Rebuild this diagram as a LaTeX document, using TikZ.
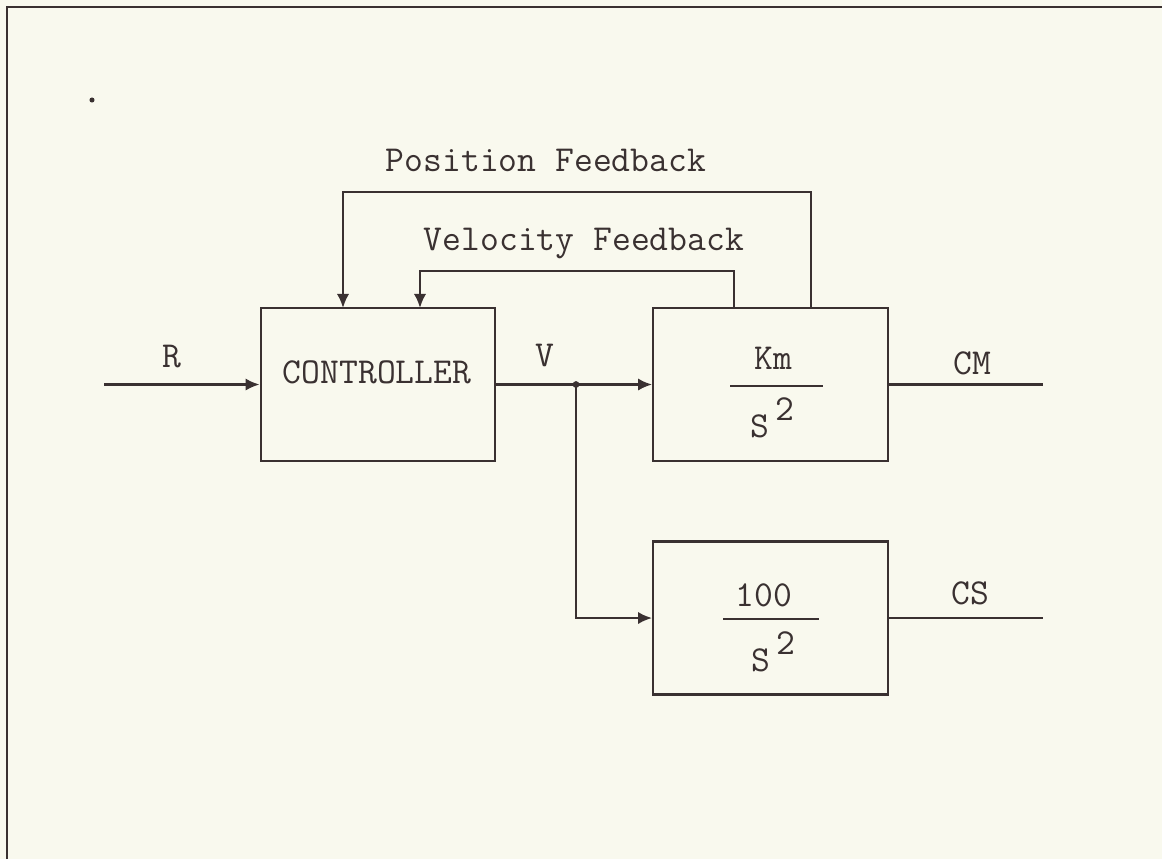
\documentclass[tikz,border=0pt]{standalone}
\usepackage{xcolor}
\definecolor{colPaper}{HTML}{F9F9EE}
\definecolor{colInk}{HTML}{3A3131}
\usetikzlibrary{arrows.meta, positioning}

\begin{document}
\begin{tikzpicture}[x=0.0125cm, y=-0.0125cm,
        every node/.style={font=\ttfamily\fontsize{13pt}{15pt}\selectfont, text=colInk, inner sep=0pt},
        block/.style={draw=colInk, line width=0.85pt, minimum width=2.93cm, minimum height=1.91cm},
        sig/.style={draw=colInk, line width=0.85pt},
        sigarrow/.style={sig, -{Latex[length=5pt, width=4.4pt]}},
        fracbar/.style={draw=colInk, line width=1pt}]
        % Sfondo
        \fill[colPaper] (0,0) rectangle (1162,859);
        \useasboundingbox (0,0) rectangle (1162,859);
        \draw[colInk, line width=0.8pt] (7,859) -- (7,7) -- (1162,7);
        \fill[colInk] (92,100) circle (0.9pt);
        % Blocchi
        \node[block] (ctrl) at (378,384.5) {};
        \node[block] (km) at (770.5,384.5) {};
        \node[block] (gain) at (770.5,618) {};
        \node (ctrlText) at (377,372) {CONTROLLER};
        % Km / S^2
        \node (kmNum) at (773,358) {Km};
        \coordinate (kmBarL) at (730,386);
        \coordinate (kmBarR) at (823,386);
        \draw[fracbar] (kmBarL) -- (kmBarR);
        \node (kmDen) at (772,418) {S\,\raisebox{1.05ex}{2}};
        % 100 / S^2
        \node (gainNum) at (764,595) {100};
        \coordinate (gainBarL) at (723,619);
        \coordinate (gainBarR) at (819,619);
        \draw[fracbar] (gainBarL) -- (gainBarR);
        \node (gainDen) at (773,652) {S\,\raisebox{1.05ex}{2}};
        % Ingresso e uscite
        \coordinate (rIn) at (104,384.5);
        \draw[sigarrow] (rIn) -- (ctrl.west);
        \node (rLabel) at (172,357) {R};
        \draw[sigarrow] (ctrl.east) -- (km.west);
        \node (vLabel) at (545,355) {V};
        \coordinate (split) at (576,384.5);
        \fill[colInk] (split) circle (1.2pt);
        \draw[sigarrow] (split) |- (gain.west);
        \coordinate (cmOut) at (1043,384.5);
        \draw[sig] (km.east) -- (cmOut);
        \node (cmLabel) at (972,363) {CM};
        \coordinate (csOut) at (1043,618);
        \draw[sig] (gain.east) -- (csOut);
        \node (csLabel) at (970,593) {CS};
        % Retroazioni
        \coordinate (posTap) at (811,308);
        \coordinate (posIn) at (343,308);
        \draw[sigarrow] (posTap) -- (811,192) -- (343,192) -- (posIn);
        \node (posLabel) at (546,160) {Position Feedback};
        \coordinate (velTap) at (734,308);
        \coordinate (velIn) at (420,308);
        \draw[sigarrow] (velTap) -- (734,271) -- (420,271) -- (velIn);
        \node (velLabel) at (584,243) {Velocity Feedback};
    \end{tikzpicture}
\end{document}
